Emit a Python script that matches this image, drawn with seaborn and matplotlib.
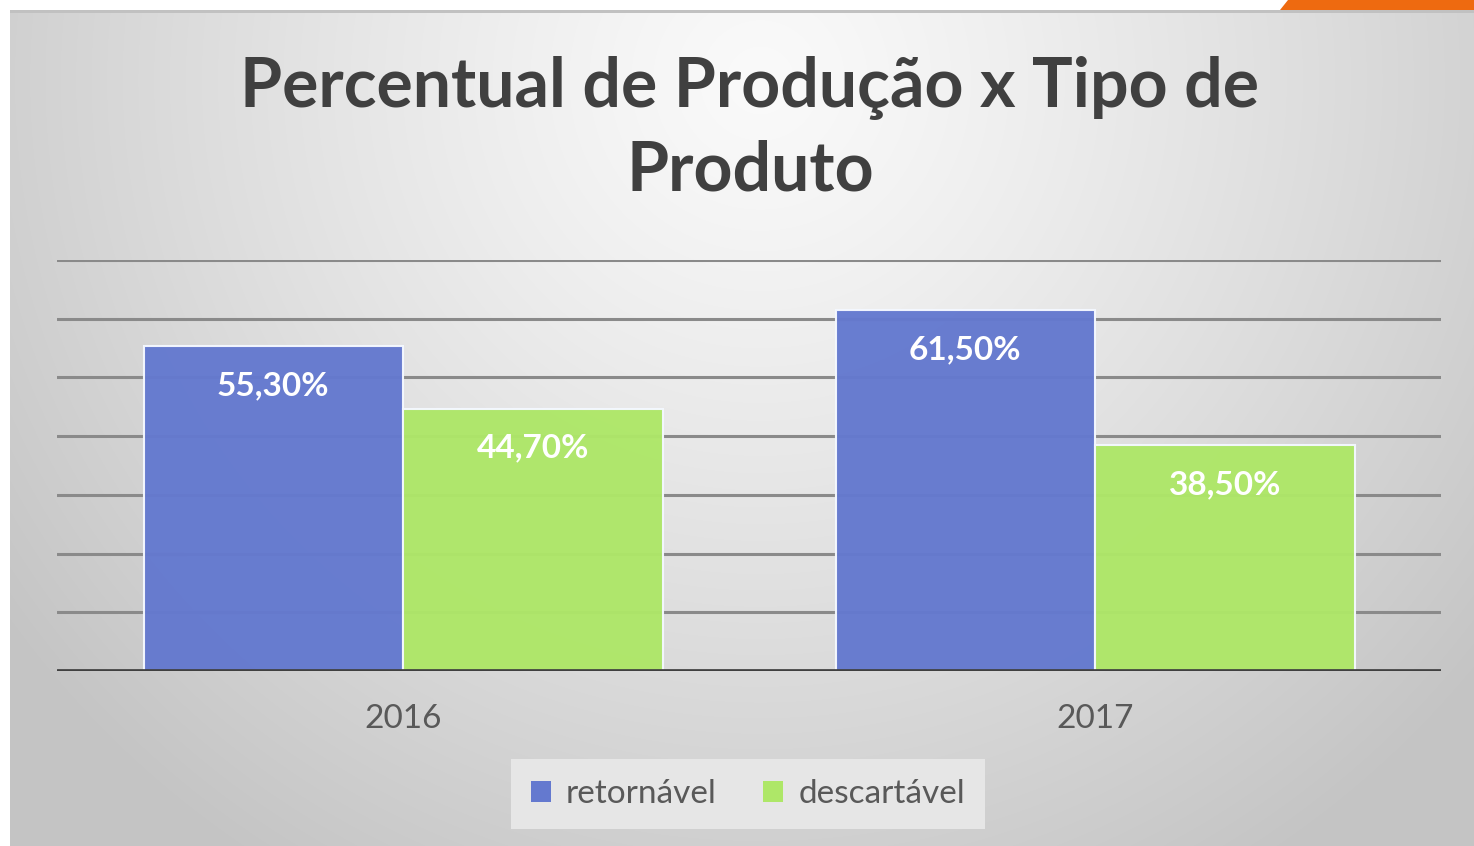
import numpy as np
import pandas as pd
import matplotlib
matplotlib.use("Agg")
import matplotlib.pyplot as plt
import seaborn as sns
from matplotlib.patches import Polygon

# ---- data ----
anos = ["2016", "2017"]
tipos = ["retornável", "descartável"]
retornavel = [55.3, 61.5]
descartavel = [44.7, 38.5]
titulo = "Percentual de Produção x Tipo de\nProduto"

df = pd.DataFrame({
    "ano": anos * 2,
    "tipo": [tipos[0]] * len(anos) + [tipos[1]] * len(anos),
    "valor": retornavel + descartavel,
})

sns.set_theme(style="white")
plt.rcParams["font.family"] = ["Lato", "DejaVu Sans"]

W, H = 1474, 846
fig = plt.figure(figsize=(W / 100, H / 100), dpi=100)
fig.patch.set_facecolor("white")

# background gradient panel
yy, xx = np.mgrid[0:H, 0:W]
d = np.sqrt(((xx - 760) / 850.0) ** 2 + ((yy - 80) / 850.0) ** 2)
val = 250 - 48 * np.clip(d, 0, 1.1) ** 1.2
img = np.stack([val, val, val], axis=-1) / 255.0
img[:10, :, :] = 1.0
img[:, :10, :] = 1.0
img[10:13, 10:, :] = 0.76
fig.figimage(img, xo=0, yo=0, origin="upper", zorder=-5)

# orange corner shape
fig.patches.append(Polygon([[1288 / W, 1.0], [1474 / W, 1.0], [1474 / W, 1 - 10 / H], [1280 / W, 1 - 10 / H]],
                           closed=True, transform=fig.transFigure, facecolor="#EE6A10",
                           edgecolor="none", zorder=1))

ax = fig.add_axes([57 / W, 1 - 671 / H, (1441 - 57) / W, (671 - 260) / H])
ax.set_facecolor("none")
ax.set_zorder(2)

palette = {tipos[0]: "#6479CF", tipos[1]: "#AEE768"}
sns.barplot(data=df, x="ano", y="valor", hue="tipo", order=anos, hue_order=tipos,
            palette=palette, width=0.75, gap=0, ax=ax, edgecolor="#F4F8FF", linewidth=1.5,
            alpha=0.97, saturation=1, zorder=3, legend=True)

ax.set_ylim(0, 70)
ax.set_xlim(-0.5, 1.5)
ax.set_yticks(np.arange(10, 71, 10))
ax.set_yticklabels([])
ax.yaxis.grid(True, color="#8A8A8A", linewidth=2.2, zorder=1)
ax.set_axisbelow(True)
ax.axhline(0, color="#404040", linewidth=3.4, zorder=5)
for s in ax.spines.values():
    s.set_visible(False)
ax.tick_params(axis="x", length=0, pad=24, labelsize=24, labelcolor="#595959")
ax.tick_params(axis="y", length=0)
ax.set_xlabel("")
ax.set_ylabel("")

for cont in ax.containers:
    labels = [f"{v:.2f}".replace(".", ",") + "%" for v in cont.datavalues]
    ax.bar_label(cont, labels=labels, padding=-39, color="white", fontsize=24,
                 fontweight="bold", zorder=6)

fig.text(750 / W, 1 - 129 / H, titulo, ha="center", va="center", fontsize=49,
         fontweight="bold", color="#404040", linespacing=1.38)

leg = ax.legend(loc="center", bbox_to_anchor=(748 / W, 1 - 794 / H), bbox_transform=fig.transFigure,
                ncol=2, frameon=True, fontsize=24, handlelength=0.6, handleheight=0.6,
                handletextpad=0.45, columnspacing=1.4, borderpad=0.6, borderaxespad=0,
                fancybox=False)
leg.get_frame().set_facecolor("#E6E6E6")
leg.get_frame().set_edgecolor("none")
leg.get_frame().set_alpha(1)
for t in leg.get_texts():
    t.set_color("#595959")
for h in leg.legend_handles:
    h.set_edgecolor("none")
    h.set_alpha(1)

fig.savefig("out.png", dpi=100)
